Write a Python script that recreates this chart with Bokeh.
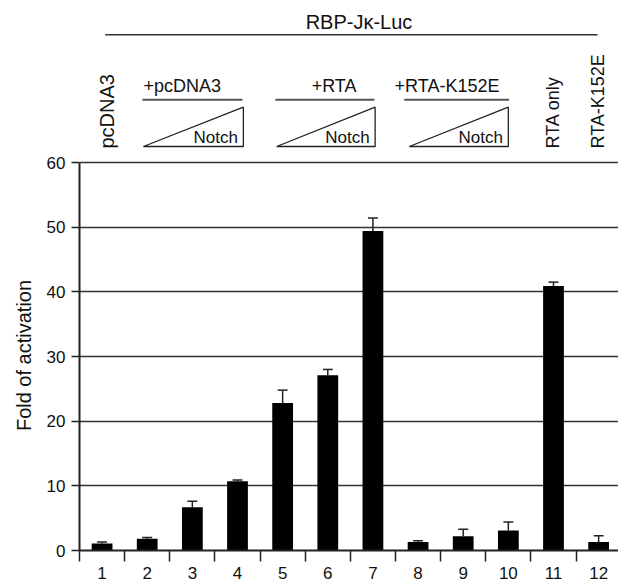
import math
from bokeh.plotting import figure
from bokeh.layouts import column
from bokeh.models import Range1d, FixedTicker, ColumnDataSource
from bokeh.core.properties import value
from bokeh.embed import file_html
from bokeh.resources import INLINE

# ---------------- data ----------------
lanes = list(range(1, 13))
lane_labels = [str(i) for i in lanes]
fold = [1.1, 1.8, 6.7, 10.7, 22.8, 27.1, 49.4, 1.3, 2.2, 3.1, 40.9, 1.3]
err = [0.2, 0.2, 0.9, 0.2, 2.0, 0.9, 2.0, 0.2, 1.1, 1.3, 0.6, 1.0]
y_ticks = [0, 10, 20, 30, 40, 50, 60]

title_text = "RBP-J\u03ba-Luc"
group_names = ["+pcDNA3", "+RTA", "+RTA-K152E"]
single_names = ["pcDNA3", "RTA only", "RTA-K152E"]

FONT = "Liberation Sans"
W = 618
XR = (0.5, 12.44)

# ---------------- header ----------------
H_HEAD = 150
hdr = figure(width=W, height=H_HEAD, x_range=Range1d(*XR), y_range=Range1d(H_HEAD, 0),
             x_axis_type=None, y_axis_type=None, toolbar_location=None,
             output_backend="svg", min_border_left=79, min_border_right=0,
             min_border_top=0, min_border_bottom=0, outline_line_color=None)
hdr.xgrid.visible = False
hdr.ygrid.visible = False

hdr.text(x=[5.51], y=[21], text=[title_text], text_font=value(FONT),
         text_font_size="20px", text_baseline="alphabetic", text_align="left",
         text_color="#111")
hdr.segment(x0=[1.069], y0=[34.3], x1=[11.977], y1=[34.3], line_color="#333", line_width=1.6)

grp_label_x = [1.915, 5.643, 7.48]
hdr.text(x=grp_label_x, y=[85.5] * 3, text=group_names, text_font=value(FONT),
         text_font_size="18px", text_baseline="alphabetic", text_align="left",
         text_color="#111")
grp_line_x0 = [1.893, 4.839, 7.695]
grp_line_x1 = [4.108, 7.032, 10.017]
hdr.segment(x0=grp_line_x0, y0=[99.3] * 3, x1=grp_line_x1, y1=[99.3] * 3,
            line_color="#555", line_width=2)

tri_l = [1.915, 4.868, 7.806]
tri_r = [4.130, 7.049, 9.999]
hdr.patches(xs=[[a, b, b] for a, b in zip(tri_l, tri_r)],
            ys=[[146, 146, 106.7]] * 3, fill_color=None, line_color="#222", line_width=1.3)
hdr.text(x=[r - 0.12 for r in tri_r], y=[137.3] * 3, text=["Notch"] * 3,
         text_font=value(FONT), text_font_size="17px", text_baseline="alphabetic",
         text_align="right", text_color="#111")

hdr.text(x=[1.11], y=[148], text=single_names[:1], angle=math.pi / 2,
         text_font=value(FONT), text_font_size="20px", text_baseline="middle",
         text_align="left", text_color="#111")
hdr.text(x=[10.99, 11.98], y=[148] * 2, text=single_names[1:], angle=math.pi / 2,
         text_font=value(FONT), text_font_size="18px", text_baseline="middle",
         text_align="left", text_color="#111")

# ---------------- main chart ----------------
H_MAIN = 581 - H_HEAD
p = figure(width=W, height=H_MAIN, x_range=Range1d(*XR), y_range=Range1d(0, 60.31),
           toolbar_location=None, output_backend="svg",
           min_border_left=79, min_border_right=0, min_border_top=10, min_border_bottom=31,
           outline_line_color=None)

src = ColumnDataSource(dict(x=lanes, top=fold,
                            up=[f + e for f, e in zip(fold, err)],
                            cl=[x - 0.11 for x in lanes], cr=[x + 0.11 for x in lanes]))

p.xgrid.visible = False
p.ygrid.ticker = FixedTicker(ticks=y_ticks[1:])
p.ygrid.grid_line_color = "#333333"
p.ygrid.grid_line_width = 1.7

p.segment(x0="x", y0="top", x1="x", y1="up", source=src, line_color="#222", line_width=1.5)
p.segment(x0="cl", y0="up", x1="cr", y1="up", source=src, line_color="#222", line_width=1.5)
p.vbar(x="x", top="top", bottom=0, width=0.46, source=src, fill_color="black", line_color=None)

# x axis
xa = p.xaxis[0]
xa.ticker = FixedTicker(ticks=lanes, minor_ticks=[l - 0.5 for l in lanes] + [12.5])
xa.major_label_overrides = {l: s for l, s in zip(lanes, lane_labels)}
xa.major_tick_line_color = None
xa.major_tick_out = 0
xa.major_tick_in = 0
xa.minor_tick_out = 11
xa.minor_tick_in = 0
xa.minor_tick_line_color = "#222"
xa.minor_tick_line_width = 1.5
xa.axis_line_width = 2
xa.axis_line_color = "#222"
xa.major_label_standoff = 5
xa.major_label_text_font = FONT
xa.major_label_text_font_size = "17px"
xa.major_label_text_color = "#111"

# y axis
ya = p.yaxis[0]
ya.ticker = FixedTicker(ticks=y_ticks)
ya.bounds = (0, 60)
ya.major_tick_out = 8
ya.major_tick_in = 0
ya.minor_tick_line_color = None
ya.major_tick_line_width = 1.5
ya.major_tick_line_color = "#222"
ya.axis_line_width = 2
ya.axis_line_color = "#222"
ya.major_label_standoff = 6
ya.major_label_text_font = FONT
ya.major_label_text_font_size = "17px"
ya.major_label_text_color = "#111"
ya.axis_label = "Fold of activation"
ya.axis_label_text_font = FONT
ya.axis_label_text_font_style = "normal"
ya.axis_label_text_font_size = "20px"
ya.axis_label_text_color = "#111"
ya.axis_label_standoff = 9

layout = column(hdr, p, spacing=0)
open("out.html", "w").write(file_html(layout, INLINE))
